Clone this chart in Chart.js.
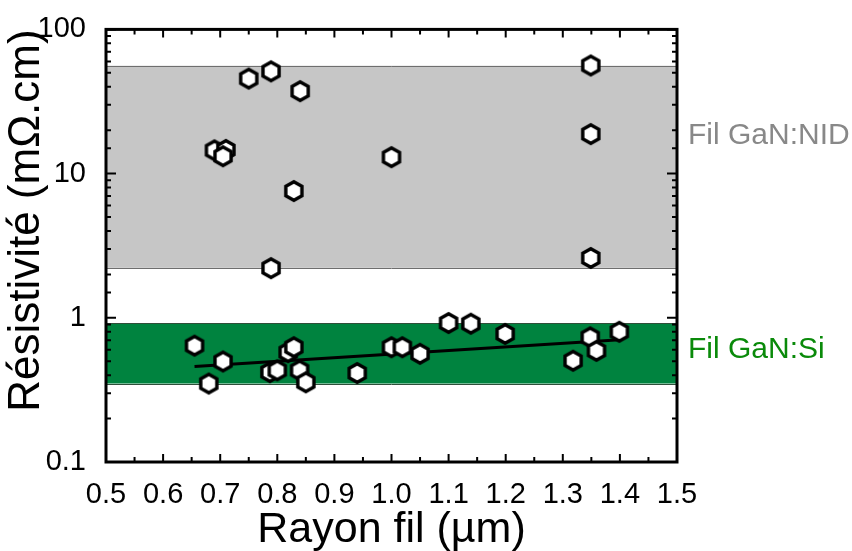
<!DOCTYPE html>
<html>
<head>
<meta charset="utf-8">
<script src="https://cdn.jsdelivr.net/npm/chart.js@4"></script>
<style>
  html, body { margin: 0; padding: 0; background: #fff; }
  #wrap { width: 852px; height: 551px; }
</style>
</head>
<body>
<div id="wrap"><canvas id="chart" width="852" height="551"></canvas></div>
<script>
// fil GaN:NID (non dopé)
const nidX = [0.75, 0.789, 0.84, 0.69, 0.71, 0.705, 1.0, 0.829, 0.789, 1.349, 1.349, 1.349];
const nidY = [45.6, 51.2, 37.3, 14.5, 14.6, 13.2, 13.0, 7.57, 2.21, 56.2, 18.8, 2.6];

// fil GaN:Si
const siX = [0.655, 0.705, 0.68, 0.787, 0.8, 0.819, 0.829, 0.839, 0.85, 0.94, 1.0, 1.019, 1.05, 1.1, 1.139, 1.199, 1.318, 1.348, 1.359, 1.399];
const siY = [0.641, 0.498, 0.35, 0.42, 0.432, 0.577, 0.625, 0.432, 0.357, 0.414, 0.625, 0.625, 0.563, 0.92, 0.91, 0.773, 0.504, 0.732, 0.59, 0.8];

// droite d'ajustement
const fitX = [0.655, 1.4];
const fitY = [0.46, 0.703];

// bandes (min, max) et position des étiquettes
const nidBand = [2.22, 56];
const siBand = [0.35, 0.92];
const nidLabelAt = 18.3;
const siLabelAt = 0.6;

const yTickLabels = ["0.1", "1", "10", "100"];
const xTickLabels = ["0.5", "0.6", "0.7", "0.8", "0.9", "1.0", "1.1", "1.2", "1.3", "1.4", "1.5"];

const FONT = "'Liberation Sans', Arial, sans-serif";

function hexagon() {
  const c = document.createElement("canvas");
  c.width = 26;
  c.height = 26;
  const g = c.getContext("2d");
  g.beginPath();
  for (let i = 0; i < 6; i++) {
    const a = -Math.PI / 2 + i * Math.PI / 3;
    const px = 13 + 9.3 * Math.cos(a);
    const py = 13 + 9.3 * Math.sin(a);
    if (i === 0) g.moveTo(px, py); else g.lineTo(px, py);
  }
  g.closePath();
  g.fillStyle = "#fff";
  g.fill();
  g.lineWidth = 3.4;
  g.strokeStyle = "#000";
  g.stroke();
  return c;
}
const hex = hexagon();

function pts(xs, ys) {
  return xs.map((x, i) => ({ x: x, y: ys[i] }));
}

const bandsPlugin = {
  id: "bands",
  beforeDatasetsDraw(chart) {
    const ctx = chart.ctx;
    const a = chart.chartArea;
    const y = chart.scales.y;
    const draw = (band, fill, edge) => {
      const top = y.getPixelForValue(band[1]);
      const bot = y.getPixelForValue(band[0]);
      ctx.save();
      ctx.fillStyle = fill;
      ctx.fillRect(a.left, top, a.right - a.left, bot - top);
      ctx.strokeStyle = edge;
      ctx.lineWidth = 1;
      ctx.beginPath();
      ctx.moveTo(a.left, Math.round(top) + 0.5);
      ctx.lineTo(a.right, Math.round(top) + 0.5);
      ctx.moveTo(a.left, Math.round(bot) + 0.5);
      ctx.lineTo(a.right, Math.round(bot) + 0.5);
      ctx.stroke();
      ctx.restore();
    };
    draw(nidBand, "#c6c6c6", "#6e6e6e");
    draw(siBand, "#00833f", "#2f4f3a");
  },
  afterDraw(chart) {
    const ctx = chart.ctx;
    const a = chart.chartArea;
    const x = chart.scales.x;
    const y = chart.scales.y;
    ctx.save();
    ctx.strokeStyle = "#000";
    ctx.lineWidth = 2;
    ctx.beginPath();
    // x ticks, bas et haut
    for (let i = 0; i < xTickLabels.length; i++) {
      const v = parseFloat(xTickLabels[i]);
      const p = x.getPixelForValue(v);
      ctx.moveTo(p, a.bottom); ctx.lineTo(p, a.bottom - 8);
      ctx.moveTo(p, a.top); ctx.lineTo(p, a.top + 8);
      if (i < xTickLabels.length - 1) {
        const m = x.getPixelForValue(v + 0.05);
        ctx.moveTo(m, a.bottom); ctx.lineTo(m, a.bottom - 5);
        ctx.moveTo(m, a.top); ctx.lineTo(m, a.top + 5);
      }
    }
    // y ticks, gauche et droite
    y.ticks.forEach((t) => {
      const p = y.getPixelForValue(t.value);
      const major = Math.abs(Math.log10(t.value) - Math.round(Math.log10(t.value))) < 1e-6;
      const len = major ? 10 : 5;
      ctx.moveTo(a.left, p); ctx.lineTo(a.left + len, p);
      ctx.moveTo(a.right, p); ctx.lineTo(a.right - len, p);
    });
    ctx.stroke();
    ctx.lineWidth = 3;
    ctx.strokeRect(a.left, a.top, a.right - a.left, a.bottom - a.top);

    // étiquettes des bandes
    ctx.font = "30px " + FONT;
    ctx.textBaseline = "middle";
    ctx.textAlign = "left";
    ctx.fillStyle = "#888888";
    ctx.fillText("Fil GaN:NID", a.right + 11, y.getPixelForValue(nidLabelAt));
    ctx.fillStyle = "#0a8a0a";
    ctx.fillText("Fil GaN:Si", a.right + 11, y.getPixelForValue(siLabelAt));
    ctx.restore();
  },
};

const chart = new Chart(document.getElementById("chart"), {
  type: "scatter",
  data: {
    datasets: [
      {
        label: "NID",
        data: pts(nidX, nidY),
        pointStyle: hex,
        order: 1,
      },
      {
        label: "Si",
        data: pts(siX, siY),
        pointStyle: hex,
        order: 1,
      },
      {
        type: "line",
        label: "fit",
        data: pts(fitX, fitY),
        borderColor: "#000",
        borderWidth: 3,
        pointRadius: 0,
        showLine: true,
        order: 3,
      },
    ],
  },
  options: {
    responsive: false,
    animation: false,
    layout: { padding: { top: 26, right: 175, left: 0, bottom: 0 } },
    plugins: { legend: { display: false }, tooltip: { enabled: false } },
    scales: {
      x: {
        type: "linear",
        min: 0.5,
        max: 1.5,
        grid: { display: false },
        border: { display: false },
        ticks: {
          stepSize: 0.1,
          color: "#000",
          padding: 8,
          font: { family: FONT, size: 29 },
          callback: (v) => xTickLabels.find((s) => Math.abs(parseFloat(s) - v) < 1e-6) || "",
        },
        title: {
          display: true,
          text: "Rayon fil (µm)",
          color: "#000",
          font: { family: FONT, size: 43 },
          padding: { top: 0, bottom: -5 },
        },
        afterFit: (s) => { s.height = 89; },
      },
      y: {
        type: "logarithmic",
        min: 0.1,
        max: 100,
        grid: { display: false },
        border: { display: false },
        ticks: {
          color: "#000",
          padding: 12,
          autoSkip: false,
          font: { family: FONT, size: 29 },
          callback: (v) => yTickLabels.find((s) => Math.abs(parseFloat(s) - v) < 1e-9) || "",
        },
        title: {
          display: true,
          text: "Résistivité (mΩ.cm)",
          align: "end",
          color: "#000",
          font: { family: FONT, size: 44 },
          padding: { top: 0, bottom: 0 },
        },
        afterFit: (s) => { s.width = 106; },
      },
    },
  },
  plugins: [bandsPlugin],
});
</script>
</body>
</html>
